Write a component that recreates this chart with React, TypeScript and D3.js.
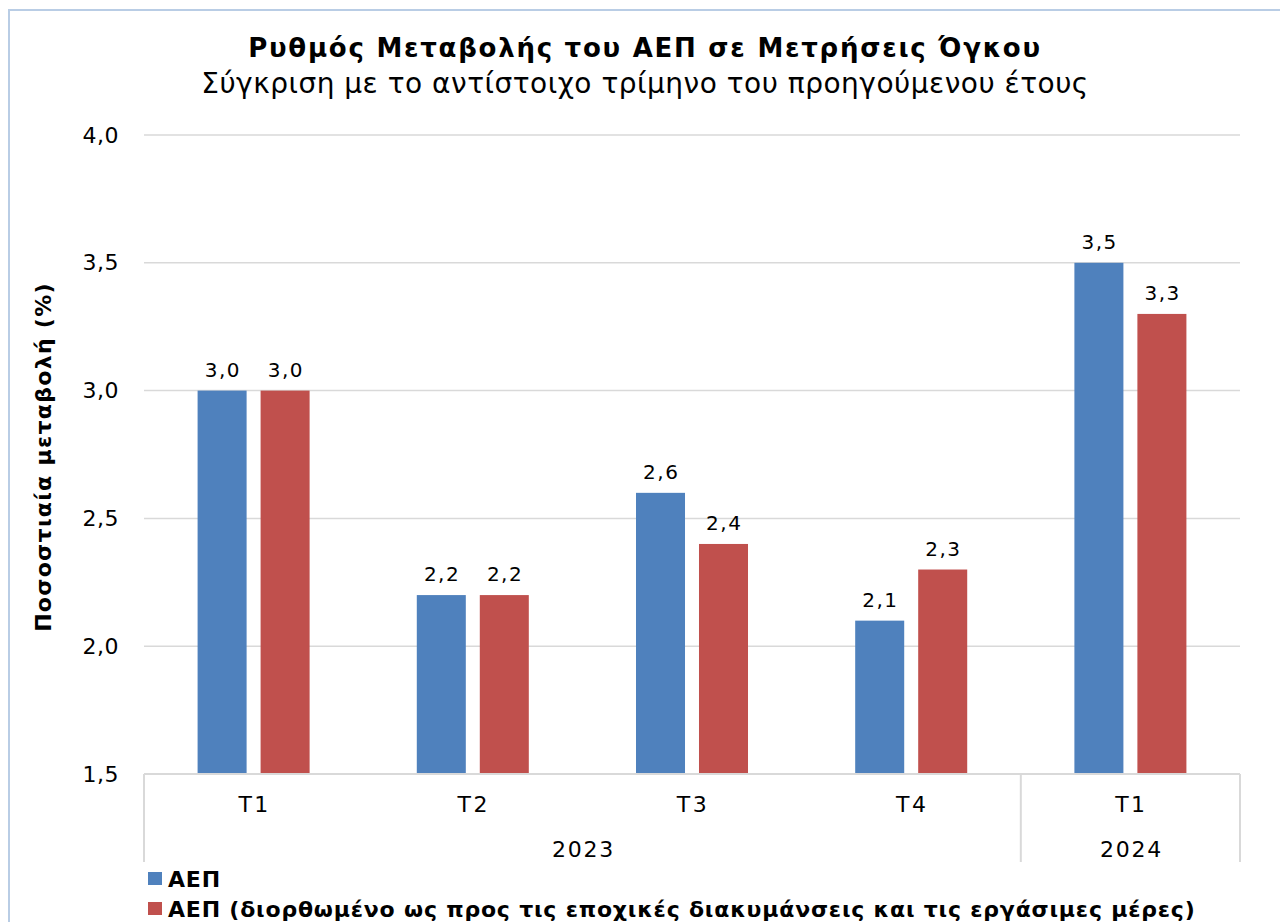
import { useEffect, useRef } from 'react'
import * as d3 from 'd3'

const quarters = ['T1', 'T2', 'T3', 'T4', 'T1']
const yearGroups = [
  { year: '2023', from: 0, to: 3 },
  { year: '2024', from: 4, to: 4 },
]
const seriesNames = ['ΑΕΠ', 'ΑΕΠ (διορθωμένο ως προς τις εποχικές διακυμάνσεις και τις εργάσιμες μέρες)']
const gdp = [3.0, 2.2, 2.6, 2.1, 3.5]
const gdpAdjusted = [3.0, 2.2, 2.4, 2.3, 3.3]
const yTicks = [1.5, 2.0, 2.5, 3.0, 3.5, 4.0]

const COLORS = ['#4F81BD', '#C0504D']
const FONT = 'DejaVu Sans, Verdana, sans-serif'
const fmt = (v: number) => d3.format('.1f')(v).replace('.', ',')

export default function App() {
  const svgRef = useRef<SVGSVGElement>(null)

  useEffect(() => {
    if (!svgRef.current) return
    const svg = d3.select(svgRef.current)
    svg.selectAll('*').remove()

    const W = 1280, H = 922
    const left = 144, right = 1240, top = 135, bottom = 774

    // chart frame
    svg.append('rect')
      .attr('x', 9).attr('y', 10)
      .attr('width', W + 20).attr('height', H + 20)
      .attr('fill', '#fff').attr('stroke', '#b9cde5').attr('stroke-width', 2)

    const y = d3.scaleLinear().domain([1.5, 4.0]).range([bottom, top])
    const idx = quarters.map((_, i) => String(i))
    const x0 = d3.scaleBand().domain(idx).range([left, right]).padding(0)
    const groupW = x0.bandwidth() * 0.511
    const x1 = d3.scaleBand().domain(['0', '1']).range([0, groupW]).paddingInner(0.222)
    const barX = (i: number, s: number) => x0(String(i))! + (x0.bandwidth() - groupW) / 2 + x1(String(s))!

    // gridlines
    svg.append('g').selectAll('line').data(yTicks).join('line')
      .attr('x1', left).attr('x2', right)
      .attr('y1', d => y(d)).attr('y2', d => y(d))
      .attr('stroke', '#d9d9d9').attr('stroke-width', 1.5)

    // y tick labels
    svg.append('g').selectAll('text').data(yTicks).join('text')
      .attr('x', 119).attr('y', d => y(d))
      .attr('text-anchor', 'end').attr('dominant-baseline', 'central')
      .attr('font-family', FONT).attr('font-size', 22).attr('letter-spacing', 0.5).attr('fill', '#000')
      .text(d => fmt(d))

    // bars + value labels
    const series = [gdp, gdpAdjusted]
    series.forEach((vals, s) => {
      const g = svg.append('g')
      g.selectAll('rect').data(vals).join('rect')
        .attr('x', (_, i) => barX(i, s))
        .attr('width', x1.bandwidth())
        .attr('y', d => y(d))
        .attr('height', d => y(1.5) - y(d))
        .attr('fill', COLORS[s])
      g.selectAll('text').data(vals).join('text')
        .attr('x', (_, i) => barX(i, s) + x1.bandwidth() / 2 + 0.75)
        .attr('y', d => y(d) - 14)
        .attr('text-anchor', 'middle')
        .attr('font-family', FONT).attr('font-size', 20).attr('letter-spacing', 1.5).attr('fill', '#000')
        .text(d => fmt(d))
    })

    // category axis box
    const axisBottom = 862
    const ax = svg.append('g').attr('stroke', '#d9d9d9').attr('stroke-width', 2)
    ax.append('line').attr('x1', left).attr('x2', right).attr('y1', bottom).attr('y2', bottom)
    const seps = [left, ...yearGroups.map(g => x0(String(g.to))! + x0.bandwidth())]
    ax.selectAll('line.sep').data(seps).join('line').attr('class', 'sep')
      .attr('x1', d => d).attr('x2', d => d)
      .attr('y1', bottom).attr('y2', axisBottom)

    svg.append('g').selectAll('text').data(quarters).join('text')
      .attr('x', (_, i) => x0(String(i))! + x0.bandwidth() / 2 + 1)
      .attr('y', 812)
      .attr('text-anchor', 'middle')
      .attr('font-family', FONT).attr('font-size', 22).attr('letter-spacing', 2.5).attr('fill', '#000')
      .text(d => d)

    svg.append('g').selectAll('text').data(yearGroups).join('text')
      .attr('x', d => (x0(String(d.from))! + x0(String(d.to))! + x0.bandwidth()) / 2 + 1)
      .attr('y', 857)
      .attr('text-anchor', 'middle')
      .attr('font-family', FONT).attr('font-size', 22).attr('letter-spacing', 1.75).attr('fill', '#000')
      .text(d => d.year)

    // titles
    svg.append('text')
      .attr('x', 645).attr('y', 57)
      .attr('text-anchor', 'middle')
      .attr('font-family', FONT).attr('font-size', 26).attr('font-weight', 'bold').attr('letter-spacing', 1.75)
      .text('Ρυθμός Μεταβολής του ΑΕΠ σε Μετρήσεις Όγκου')
    svg.append('text')
      .attr('x', 645).attr('y', 93)
      .attr('text-anchor', 'middle')
      .attr('font-family', FONT).attr('font-size', 28).attr('letter-spacing', 0.5)
      .text('Σύγκριση με το αντίστοιχο τρίμηνο του προηγούμενου έτους')

    // y axis title
    svg.append('text')
      .attr('transform', `translate(51, 457) rotate(-90)`)
      .attr('text-anchor', 'middle')
      .attr('font-family', FONT).attr('font-size', 22).attr('font-weight', 'bold').attr('letter-spacing', 1.3)
      .text('Ποσοστιαία μεταβολή (%)')

    // legend
    const lg = svg.append('g').selectAll('g').data(seriesNames).join('g')
      .attr('transform', (_, i) => `translate(148, ${872 + i * 30})`)
    lg.append('rect').attr('width', 14).attr('height', 13).attr('fill', (_, i) => COLORS[i])
    lg.append('text')
      .attr('x', 20).attr('y', 15)
      .attr('font-family', FONT).attr('font-size', 22).attr('font-weight', 'bold').attr('letter-spacing', 0.8)
      .text(d => d)
  }, [])

  return <svg ref={svgRef} width={1280} height={922} style={{ position: 'absolute', left: 0, top: 0 }} />
}
